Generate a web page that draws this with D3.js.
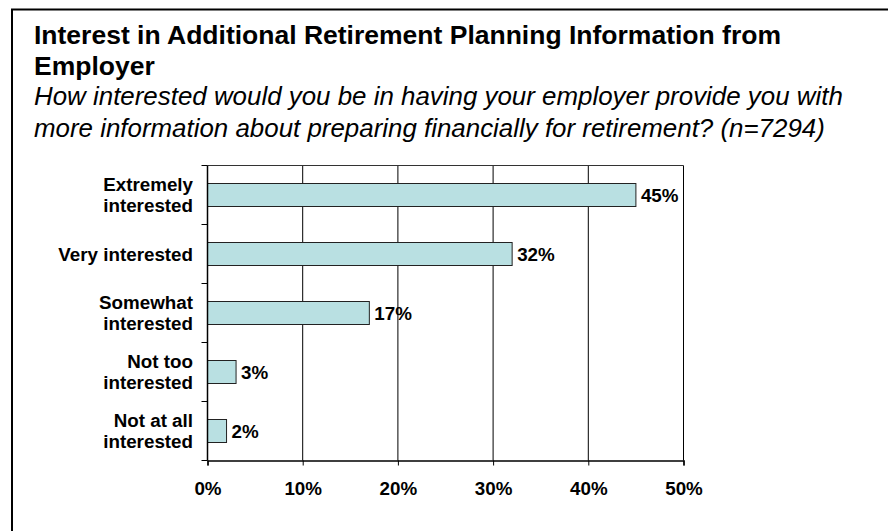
<!DOCTYPE html>
<html>
<head>
<meta charset="utf-8">
<script src="https://cdn.jsdelivr.net/npm/d3@7"></script>
<style>
  html, body { margin: 0; padding: 0; background: #ffffff; }
  svg { display: block; }
</style>
</head>
<body>
<svg id="chart" width="888" height="531"></svg>
<script>
// Survey responses
const categories = [
  ["Extremely", "interested"],
  ["Very interested"],
  ["Somewhat", "interested"],
  ["Not too", "interested"],
  ["Not at all", "interested"]
];
const values = [45, 32, 17, 3, 2];
const tickValues = [0, 10, 20, 30, 40, 50];
const titleLines = ["Interest in Additional Retirement Planning Information from", "Employer"];
const subtitleLines = [
  "How interested would you be in having your employer provide you with",
  "more information about preparing financially for retirement? (n=7294)"
];

const svg = d3.select("#chart");
const font = "Arial, 'Liberation Sans', Helvetica, sans-serif";
const labelSize = 18.8;

// Outer frame (continues beyond the visible area on the right and bottom)
svg.append("rect")
  .attr("x", 12).attr("y", 9.5)
  .attr("width", 900).attr("height", 560)
  .attr("fill", "none").attr("stroke", "#000").attr("stroke-width", 2);

// Title and question text
svg.append("g").selectAll("text").data(titleLines).join("text")
  .attr("x", 34).attr("y", (d, i) => 44 + i * 31)
  .attr("font-family", font).attr("font-weight", "bold").attr("font-size", 26.5)
  .attr("fill", "#000").text(d => d);

svg.append("g").selectAll("text").data(subtitleLines).join("text")
  .attr("x", 34).attr("y", (d, i) => 105 + i * 32)
  .attr("font-family", font).attr("font-style", "italic").attr("font-size", 25.9)
  .attr("fill", "#000").text(d => d);

// Plot area
const plot = { left: 207.5, right: 683.5, top: 165.5, bottom: 460.5 };

const x = d3.scaleLinear().domain([0, 50]).range([plot.left, plot.right]);
const y = d3.scaleBand().domain(d3.range(categories.length))
  .range([plot.top, plot.bottom]).paddingInner(0).paddingOuter(0);

const g = svg.append("g");

// Vertical gridlines
g.append("g").selectAll("line").data(tickValues.slice(1)).join("line")
  .attr("x1", d => x(d)).attr("x2", d => x(d))
  .attr("y1", plot.top).attr("y2", plot.bottom)
  .attr("stroke", "#000").attr("stroke-width", 1);

// Plot border top
g.append("line")
  .attr("x1", plot.left).attr("x2", plot.right)
  .attr("y1", plot.top).attr("y2", plot.top)
  .attr("stroke", "#333").attr("stroke-width", 1);

// Bars
const barH = y.bandwidth() * 0.39;
g.append("g").selectAll("rect").data(values).join("rect")
  .attr("x", x(0))
  .attr("y", (d, i) => Math.round(y(i) + (y.bandwidth() - barH) / 2) + 0.5)
  .attr("width", d => x(d) - x(0))
  .attr("height", Math.round(barH))
  .attr("fill", "#b9e0e2").attr("stroke", "#222").attr("stroke-width", 1);

// Value labels
g.append("g").selectAll("text").data(values).join("text")
  .attr("x", d => x(d) + 5)
  .attr("y", (d, i) => y(i) + y.bandwidth() / 2)
  .attr("dy", "0.35em")
  .attr("font-family", font).attr("font-weight", "bold").attr("font-size", labelSize)
  .attr("fill", "#000").text(d => d + "%");

// Bottom axis
const xAxis = d3.axisBottom(x).tickValues(tickValues)
  .tickFormat(d => d + "%").tickSize(5).tickPadding(16);
const xg = svg.append("g").attr("transform", `translate(0,${plot.bottom})`).call(xAxis);
xg.select(".domain").attr("stroke", "#000").attr("stroke-width", 1.5);
xg.selectAll(".tick line").attr("stroke", "#000");
xg.selectAll(".tick text")
  .attr("font-family", font).attr("font-weight", "bold").attr("font-size", labelSize)
  .attr("fill", "#000");

// Left axis with ticks between categories
const boundaries = d3.range(categories.length + 1).map(i => plot.top + i * y.bandwidth());
svg.append("line")
  .attr("x1", plot.left).attr("x2", plot.left)
  .attr("y1", plot.top).attr("y2", plot.bottom)
  .attr("stroke", "#000").attr("stroke-width", 1.5);
svg.append("g").selectAll("line").data(boundaries).join("line")
  .attr("x1", plot.left - 6).attr("x2", plot.left)
  .attr("y1", d => d).attr("y2", d => d)
  .attr("stroke", "#000");

// Category labels
const lineH = 21.5;
const cat = svg.append("g").selectAll("text").data(categories).join("text")
  .attr("text-anchor", "end")
  .attr("font-family", font).attr("font-weight", "bold").attr("font-size", labelSize)
  .attr("fill", "#000");
cat.each(function(lines, i) {
  const cy = y(i) + y.bandwidth() / 2;
  const t = d3.select(this);
  lines.forEach((ln, j) => {
    t.append("tspan")
      .attr("x", 193)
      .attr("y", cy + (j - (lines.length - 1) / 2) * lineH)
      .attr("dy", "0.35em")
      .text(ln);
  });
});
</script>
</body>
</html>
